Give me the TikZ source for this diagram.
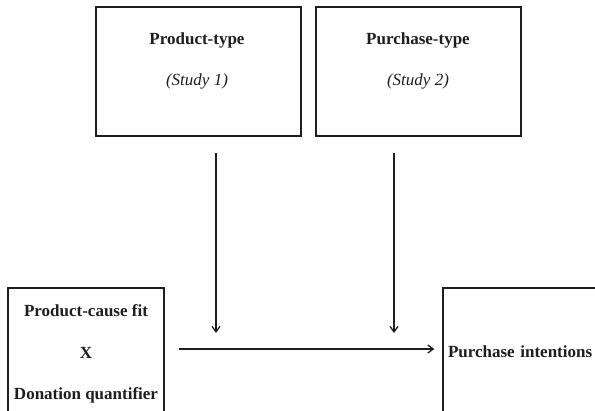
\documentclass[tikz,border=0pt]{standalone}
\usepackage{fontspec}
\setmainfont{Liberation Serif}
\usetikzlibrary{arrows.meta,positioning}
\definecolor{ink}{HTML}{1E1E1E}
\tikzset{
  card/.style={draw=ink,fill=white,line width=1.2pt,inner sep=0pt},
  cardtext/.style={font=\fontsize{17}{20}\selectfont\bfseries,text=ink,inner sep=0pt},
  studytext/.style={font=\fontsize{17}{20}\selectfont\itshape,text=ink,inner sep=0pt},
  modarr/.style={-{Straight Barb[length=5.5pt,width=8pt]},line width=1.3pt,draw=ink}
}
\begin{document}
\begin{tikzpicture}[x=1pt,y=-1pt]
    \clip (0,0) rectangle (595,411);
    \fill[white] (0,0) rectangle (595,411);
    % moderators
    \node[card,minimum width=205pt,minimum height=129pt] (ptype) at (198.5,71.5) {};
    \node[cardtext] (ptypename) at (197,40) {Product-type};
    \node[studytext] (ptypestudy) at (197,81) {(Study 1)};
    \node[card,minimum width=205pt,minimum height=129pt] (buytype) at (418.5,71.5) {};
    \node[cardtext] (buytypename) at (418,40) {Purchase-type};
    \node[studytext] (buytypestudy) at (418,81) {(Study 2)};
    % predictor and outcome
    \node[card,minimum width=156pt,minimum height=132pt,align=center,
          font=\fontsize{17}{41.5}\selectfont\bfseries,text=ink] (cause) at (86,354)
      {Product-cause fit\\X\\Donation quantifier};
    \node[card,minimum width=180pt,minimum height=128pt,text width=170pt,
          inner sep=5pt,align=left,font=\fontsize{17}{20}\selectfont\bfseries,
          text=ink] (intent) at (533,352) {Purchase intentions};
    % arrows
    \coordinate (ptdrop) at (216,153);
    \coordinate (ptend) at (216,333);
    \coordinate (btdrop) at (394,153);
    \coordinate (btend) at (394,333);
    \coordinate (mainstart) at (179,349);
    \draw[modarr] (ptdrop) -- (ptend);
    \draw[modarr] (btdrop) -- (btend);
    \draw[modarr,shorten >=8pt] (mainstart) -- (mainstart -| intent.west);
\end{tikzpicture}
\end{document}
